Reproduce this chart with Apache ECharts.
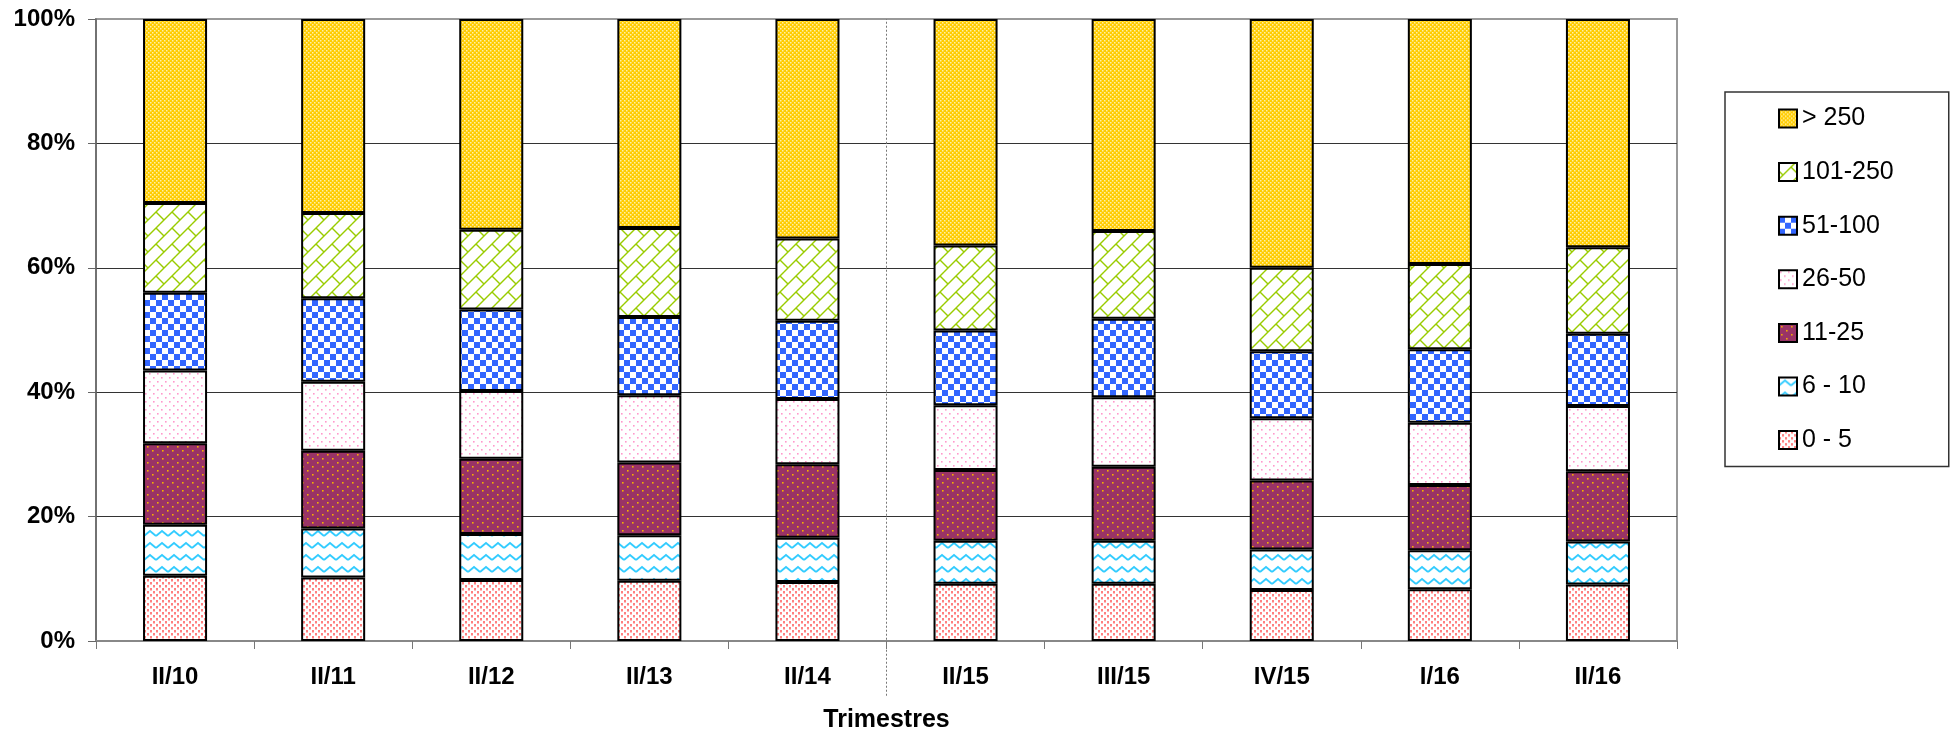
<!DOCTYPE html>
<html><head><meta charset="utf-8">
<script src="https://cdn.jsdelivr.net/npm/echarts@6/dist/echarts.min.js"></script>
<style>html,body{margin:0;padding:0;background:#fff}#c{width:1960px;height:738px}</style>
</head><body><div id="c"></div>
<script>
// ---- data ----
const categories = ['II/10','II/11','II/12','II/13','II/14','II/15','III/15','IV/15','I/16','II/16'];
const seriesNames = ['0 - 5','6 - 10','11-25','26-50','51-100','101-250','> 250'];
const v0_5     = [10.5,10.2, 9.8, 9.7, 9.5, 9.2, 9.2, 8.2, 8.3, 9.1];
const v6_10    = [ 8.2, 7.9, 7.4, 7.3, 7.1, 6.9, 6.9, 6.5, 6.3, 6.9];
const v11_25   = [13.1,12.5,12.1,11.7,11.8,11.4,11.9,11.1,10.5,11.3];
const v26_50   = [11.7,11.1,10.9,10.8,10.5,10.4,11.2,10.0,10.0,10.5];
const v51_100  = [12.5,13.4,13.1,12.6,12.6,12.0,12.6,10.8,11.8,11.6];
const v101_250 = [14.4,13.7,12.8,14.3,13.2,13.7,14.1,13.4,13.7,13.9];
const vOver250 = [29.6,31.2,33.9,33.6,35.3,36.4,34.1,40.0,39.4,36.7];
const yMin = 0, yMax = 100, yInterval = 20;
const separatorLine = [[5,-8.8],[5,100]];
const axisTitle = 'Trimestres';

// ---- pattern tiles ----
function tile(w,h,draw){const c=document.createElement('canvas');c.width=w;c.height=h;const g=c.getContext('2d');draw(g,w,h);return {image:c,repeat:'repeat'};}
const patYellow = tile(4,4,(g)=>{g.fillStyle='#FFCC00';g.fillRect(0,0,4,4);g.fillStyle='#FFF0A8';g.fillRect(0,0,1.5,1.5);g.fillRect(2,2,1.5,1.5);});
const patBrick = tile(16,16,(g)=>{g.fillStyle='#fff';g.fillRect(0,0,16,16);g.strokeStyle='#99CC00';g.lineWidth=1.4;
  for(const dx of [-16,0,16]) for(const dy of [-16,0,16]){
    g.beginPath();g.moveTo(0+dx,16+dy);g.lineTo(16+dx,0+dy);g.stroke();
    g.beginPath();g.moveTo(-4+dx,4+dy);g.lineTo(4+dx,12+dy);g.stroke();
  }});
const patChecker = tile(12,12,(g)=>{g.fillStyle='#fff';g.fillRect(0,0,12,12);g.fillStyle='#3366FF';g.fillRect(0,0,6,6);g.fillRect(6,6,6,6);});
const patPink = tile(8,8,(g)=>{g.fillStyle='#fff';g.fillRect(0,0,8,8);g.fillStyle='#FF99CC';g.fillRect(1,1,1.6,1.6);g.fillRect(5,5,1.6,1.6);});
const patMaroon = tile(10,8,(g)=>{g.fillStyle='#993366';g.fillRect(0,0,10,8);g.fillStyle='#F5B000';g.fillRect(2,2,1.6,1.6);g.fillRect(7,6,1.6,1.6);});
const patWave = tile(12,12,(g)=>{g.fillStyle='#fff';g.fillRect(0,0,12,12);g.strokeStyle='#33CCFF';g.lineWidth=1.8;g.beginPath();g.moveTo(0,8);g.lineTo(6,3);g.lineTo(12,8);g.stroke();});
const patSalmon = tile(6,6,(g)=>{g.fillStyle='#fff';g.fillRect(0,0,6,6);g.fillStyle='#FF8080';g.fillRect(0,0,2,2.5);g.fillRect(3,3,2,2.5);});

const values = [v0_5,v6_10,v11_25,v26_50,v51_100,v101_250,vOver250];
const patterns = [patSalmon,patWave,patMaroon,patPink,patChecker,patBrick,patYellow];

const FONT = 'Liberation Sans, Arial, sans-serif';
const barSeries = seriesNames.map((n,i)=>({
  name:n, type:'bar', stack:'all', barWidth:'40.5%', data:values[i],
  itemStyle:{color:patterns[i], borderColor:'#000', borderWidth:2},
  emphasis:{disabled:true}
}));
barSeries.push({
  type:'line', xAxisIndex:1, yAxisIndex:0, data:separatorLine, symbol:'none', clip:false, silent:true,
  lineStyle:{color:'#777', width:1, type:[2,2]}, z:1
});

const chart = echarts.init(document.getElementById('c'), null, {renderer:'canvas'});
chart.setOption({
  animation:false,
  backgroundColor:'#fff',
  grid:{left:96, right:283, top:19, bottom:94, show:true, borderColor:'#999', borderWidth:2, backgroundColor:'transparent'},
  legend:{
    data:seriesNames.slice().reverse(), orient:'vertical', left:1725, top:92,
    padding:[14,55,14,53], itemWidth:18, itemHeight:18, itemGap:28.6, icon:'rect',
    borderColor:'#333', borderWidth:1.5, backgroundColor:'#fff',
    itemStyle:{borderColor:'#000', borderWidth:2},
    textStyle:{fontSize:25, fontFamily:FONT, color:'#000'}
  },
  xAxis:[{
    type:'category', data:categories,
    axisLine:{lineStyle:{color:'#888', width:2}},
    axisTick:{show:true, length:8, lineStyle:{color:'#777'}},
    axisLabel:{fontSize:24, fontWeight:'bold', fontFamily:FONT, color:'#000', margin:24},
    name:axisTitle, nameLocation:'middle', nameGap:67,
    nameTextStyle:{fontSize:25, fontWeight:'bold', fontFamily:FONT, color:'#000'}
  },{
    type:'value', min:0, max:10, show:false
  }],
  yAxis:{
    type:'value', min:yMin, max:yMax, interval:yInterval,
    axisLine:{show:true, lineStyle:{color:'#666', width:1.5}},
    axisTick:{show:true, length:8, lineStyle:{color:'#666'}},
    axisLabel:{formatter:'{value}%', fontSize:24, fontWeight:'bold', fontFamily:FONT, color:'#000', margin:21},
    splitLine:{show:true, lineStyle:{color:['#999','#333','#333','#333','#333','#999'], width:1}}
  },
  series:barSeries
});
</script></body></html>
